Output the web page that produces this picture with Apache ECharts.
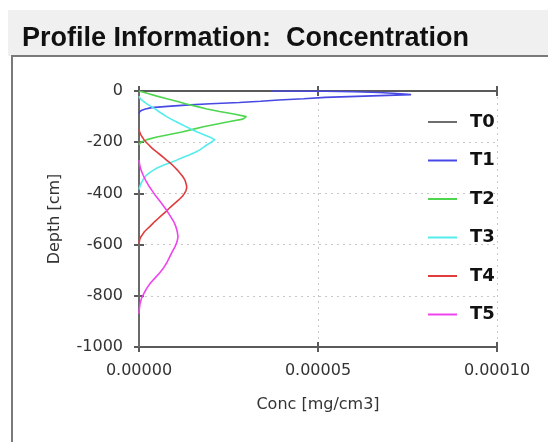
<!DOCTYPE html>
<html>
<head>
<meta charset="utf-8">
<script src="https://cdn.jsdelivr.net/npm/echarts@6/dist/echarts.min.js"></script>
<style>
html,body{margin:0;padding:0;background:#fff;}
#c{width:548px;height:442px;}
</style>
</head>
<body>
<div id="c"></div>
<script>
// Concentration unit used in the arrays below
const CONC_UNIT = 1e-5; // mg/cm3

const seriesNames = ['T0', 'T1', 'T2', 'T3', 'T4', 'T5'];
const xTickLabels = ['0.00000', '0.00005', '0.00010'];
const yTickLabels = ['0', '-200', '-400', '-600', '-800', '-1000'];

const t0Depth = [0, -1000];
const t0Conc  = [0, 0];

const t1Depth = [0, -1, -3, -6, -10, -14, -17, -20, -25, -30, -35, -40, -45, -50, -55, -60, -65, -70, -75, -80, -90];
const t1Conc  = [3.7, 5.2, 6.0, 6.7, 7.2, 7.6, 7.55, 6.3, 5.2, 4.6, 3.9, 3.4, 2.8, 2.0, 1.3, 0.8, 0.35, 0.18, 0.08, 0.02, 0];

const t2Depth = [0, -10, -20, -30, -40, -50, -60, -70, -80, -90, -100, -105, -110, -120, -130, -140, -150, -160, -170, -180, -190, -200, -210];
const t2Conc  = [0, 0.25, 0.5, 0.78, 1.05, 1.3, 1.6, 1.9, 2.25, 2.65, 3.0, 3.02, 2.9, 2.5, 2.15, 1.8, 1.5, 1.2, 0.85, 0.5, 0.22, 0.05, 0];

const t3Depth = [-20, -30, -40, -50, -60, -70, -80, -90, -100, -110, -120, -130, -140, -150, -160, -170, -180, -190, -195, -200, -210, -220, -230, -240, -250, -260, -270, -280, -290, -300, -310, -320, -330, -340, -350, -360, -370, -385];
const t3Conc  = [0, 0.03, 0.12, 0.22, 0.33, 0.45, 0.55, 0.66, 0.77, 0.9, 1.04, 1.18, 1.32, 1.47, 1.63, 1.8, 1.97, 2.12, 2.1, 2.02, 1.9, 1.8, 1.7, 1.56, 1.4, 1.22, 1.05, 0.87, 0.68, 0.52, 0.39, 0.29, 0.2, 0.14, 0.1, 0.06, 0.03, 0];

const t4Depth = [-150, -160, -170, -180, -190, -200, -210, -220, -230, -240, -250, -260, -270, -280, -290, -300, -310, -320, -330, -340, -350, -360, -370, -380, -390, -400, -410, -420, -430, -440, -450, -460, -470, -480, -490, -500, -510, -520, -530, -540, -550, -560, -570, -580, -595];
const t4Conc  = [0, 0.02, 0.05, 0.09, 0.14, 0.2, 0.27, 0.34, 0.42, 0.51, 0.6, 0.69, 0.77, 0.86, 0.94, 1.01, 1.08, 1.14, 1.2, 1.25, 1.29, 1.31, 1.33, 1.33, 1.31, 1.27, 1.22, 1.15, 1.07, 0.99, 0.91, 0.83, 0.76, 0.68, 0.6, 0.52, 0.44, 0.37, 0.3, 0.22, 0.15, 0.1, 0.05, 0.02, 0];

const t5Depth = [-270, -290, -310, -330, -350, -370, -390, -410, -430, -450, -470, -490, -510, -530, -550, -570, -590, -610, -630, -650, -670, -690, -710, -730, -750, -770, -790, -810, -830, -850, -870];
const t5Conc  = [0, 0.02, 0.06, 0.12, 0.19, 0.27, 0.37, 0.47, 0.58, 0.69, 0.79, 0.88, 0.97, 1.03, 1.07, 1.09, 1.06, 1.0, 0.92, 0.85, 0.78, 0.69, 0.58, 0.45, 0.32, 0.22, 0.14, 0.07, 0.03, 0.01, 0];

const depths = [t0Depth, t1Depth, t2Depth, t3Depth, t4Depth, t5Depth];
const concs  = [t0Conc, t1Conc, t2Conc, t3Conc, t4Conc, t5Conc];
const colors = ['#6e6e6e', '#4848e4', '#4fd64f', '#55ecec', '#e03c3c', '#ee44ee'];

const chart = echarts.init(document.getElementById('c'), null, {renderer: 'canvas'});

const labelFont = 'DejaVu Sans';
const axisLineStyle = {color: '#5a5a5a', width: 2};
const gridStyle = {color: '#c8c8c8', width: 1, type: [2, 4]};

function xAx(extra) {
  return Object.assign({
    type: 'value', min: 0, max: 10 * CONC_UNIT, interval: 5 * CONC_UNIT,
    axisLine: {show: true, onZero: false, lineStyle: axisLineStyle},
    axisTick: {show: true, length: 5, lineStyle: axisLineStyle},
    axisLabel: {show: false},
    splitLine: {show: false}
  }, extra);
}
function yAx(extra) {
  return Object.assign({
    type: 'value', min: -1000, max: 0, interval: 200,
    axisLine: {show: true, onZero: false, lineStyle: axisLineStyle},
    axisTick: {show: true, length: 5, lineStyle: axisLineStyle},
    axisLabel: {show: false},
    splitLine: {show: false}
  }, extra);
}

const series = seriesNames.map((name, i) => ({
  name: name,
  type: 'line',
  xAxisIndex: 0,
  yAxisIndex: 0,
  data: depths[i].map((d, k) => [concs[i][k] * CONC_UNIT, d]),
  showSymbol: false,
  symbol: 'none',
  smooth: false,
  lineStyle: {color: colors[i], width: 1.6},
  itemStyle: {color: colors[i]},
  z: 3 + i,
  animation: false
}));

chart.setOption({
  animation: false,
  backgroundColor: '#ffffff',
  graphic: [
    {type: 'rect', shape: {x: 8, y: 10, width: 545, height: 46}, style: {fill: '#f0f0f0'}, z: -10},
    {type: 'rect', shape: {x: 12, y: 56, width: 545, height: 400}, style: {fill: '#ffffff', stroke: '#7a7a7a', lineWidth: 2}, z: -9}
  ],
  title: {
    text: 'Profile Information:  Concentration',
    left: 22, top: 25, padding: 0,
    textStyle: {fontFamily: 'Liberation Sans', fontWeight: 'bold', fontSize: 27, color: '#111'}
  },
  legend: {
    orient: 'vertical',
    left: 423, top: 108,
    itemWidth: 29, itemHeight: 2,
    itemGap: 20.5,
    icon: 'rect',
    data: seriesNames,
    textStyle: {fontFamily: labelFont, fontWeight: 'bold', fontSize: 18, color: '#111', padding: [0, 0, 0, 8]}
  },
  grid: {left: 139, top: 91, right: 51, bottom: 95, containLabel: false},
  xAxis: [
    xAx({
      position: 'bottom',
      axisLabel: {show: true, margin: 16, fontFamily: labelFont, fontSize: 16, color: '#333',
        formatter: (v) => xTickLabels[Math.round(v / (5 * CONC_UNIT))]},
      splitLine: {show: true, lineStyle: gridStyle},
      name: 'Conc [mg/cm3]', nameLocation: 'middle', nameGap: 50,
      nameTextStyle: {fontFamily: labelFont, fontSize: 16, color: '#333'}
    }),
    xAx({position: 'bottom', axisTick: {show: true, inside: true, length: 5, lineStyle: axisLineStyle}}),
    xAx({position: 'top'}),
    xAx({position: 'top', axisTick: {show: true, inside: true, length: 5, lineStyle: axisLineStyle}})
  ],
  yAxis: [
    yAx({
      position: 'left',
      axisLabel: {show: true, margin: 16, fontFamily: labelFont, fontSize: 16, color: '#333',
        formatter: (v) => yTickLabels[Math.round(-v / 200)]},
      splitLine: {show: true, lineStyle: gridStyle},
      name: 'Depth [cm]', nameLocation: 'middle', nameGap: 76, nameRotate: 90,
      nameTextStyle: {fontFamily: labelFont, fontSize: 16, color: '#333'}
    }),
    yAx({position: 'left', axisTick: {show: true, inside: true, length: 5, lineStyle: axisLineStyle}})
  ],
  series: series
});
</script>
</body>
</html>
